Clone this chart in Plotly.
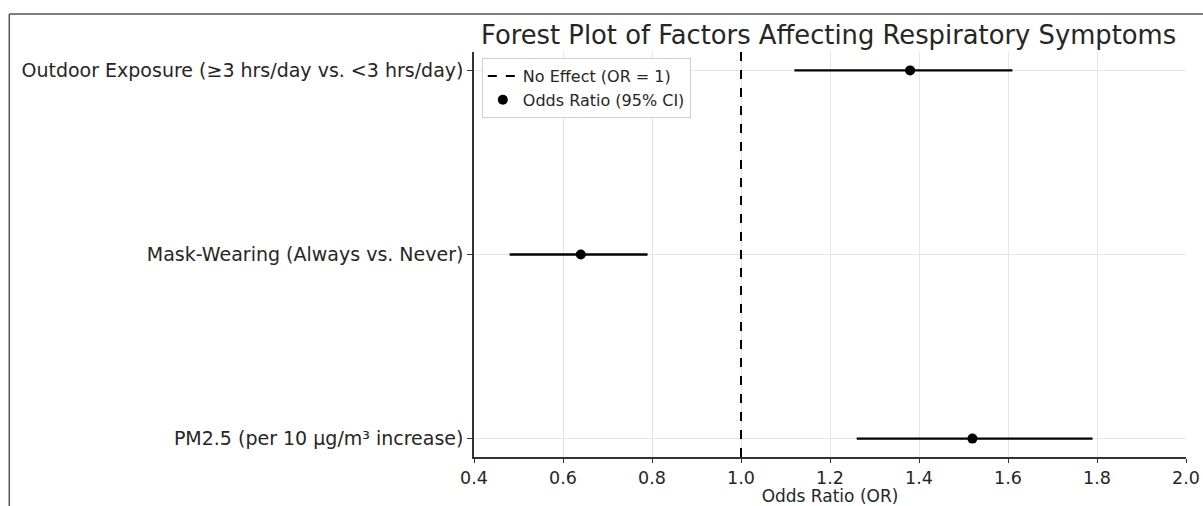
import plotly.graph_objects as go

factors = [
    "PM2.5 (per 10 µg/m³ increase)",
    "Mask-Wearing (Always vs. Never)",
    "Outdoor Exposure (≥3 hrs/day vs. <3 hrs/day)",
]
odds_ratio = [1.52, 0.64, 1.38]
ci_lower = [1.26, 0.48, 1.12]
ci_upper = [1.79, 0.79, 1.61]
x_ticks = [0.4, 0.6, 0.8, 1.0, 1.2, 1.4, 1.6, 1.8, 2.0]
x_tick_labels = ["0.4", "0.6", "0.8", "1.0", "1.2", "1.4", "1.6", "1.8", "2.0"]
null_value = 1.0

ypos = list(range(len(factors)))
err_plus = [u - o for u, o in zip(ci_upper, odds_ratio)]
err_minus = [o - l for o, l in zip(odds_ratio, ci_lower)]

FONT = "DejaVu Sans"
TXT = "#262626"

fig = go.Figure()
fig.add_trace(go.Scatter(
    x=[null_value, null_value], y=[-0.1, len(factors) - 0.9],
    mode="lines", name="No Effect (OR = 1)",
    line=dict(color="black", width=2, dash="dash"),
))
fig.add_trace(go.Scatter(
    x=odds_ratio, y=ypos, mode="markers", name="Odds Ratio (95% CI)",
    marker=dict(color="black", size=10),
    error_x=dict(type="data", symmetric=False, array=err_plus, arrayminus=err_minus,
                 color="black", thickness=2.4, width=0),
))

fig.update_layout(
    width=1203, height=506,
    margin=dict(l=474, r=17, t=52, b=49, autoexpand=False),
    paper_bgcolor="white", plot_bgcolor="white",
    font=dict(family=FONT, color=TXT, size=17),
    title=dict(text="Forest Plot of Factors Affecting Respiratory Symptoms",
               x=0.498, xanchor="center", y=0.931, yanchor="middle",
               xref="paper", automargin=False,
               font=dict(size=25.8, family=FONT, color=TXT)),
    showlegend=True,
    legend=dict(x=0.011, y=0.985, xanchor="left", yanchor="top",
                bgcolor="white", bordercolor="#d0d0d0", borderwidth=1,
                font=dict(size=16, family=FONT, color=TXT),
                tracegroupgap=0, itemwidth=30),
    xaxis=dict(range=[0.4, 2.0], tickvals=x_ticks, ticktext=x_tick_labels,
               automargin=False,
               showgrid=True, gridcolor="#e6e6e6", gridwidth=1,
               zeroline=False, showline=True, linecolor="#333", linewidth=1.5,
               ticks="outside", ticklen=4, tickcolor="#333",
               tickfont=dict(size=17.5, family=FONT, color=TXT),
               title=dict(text="Odds Ratio (OR)", standoff=1,
                          font=dict(size=17, family=FONT, color=TXT))),
    yaxis=dict(range=[-0.1, len(factors) - 0.9], tickvals=ypos, ticktext=factors,
               automargin=False,
               showgrid=True, gridcolor="#e6e6e6", gridwidth=1,
               zeroline=False, showline=True, linecolor="#333", linewidth=1.5,
               ticks="outside", ticklen=5, tickcolor="#333",
               tickfont=dict(size=19, family=FONT, color=TXT)),
    shapes=[
        dict(type="line", xref="paper", yref="paper", x0=-0.6527, x1=1.03,
             y0=1.0938, y1=1.0938, line=dict(color="#555", width=1.5)),
        dict(type="line", xref="paper", yref="paper", x0=-0.6527, x1=-0.6527,
             y0=1.0938, y1=-0.13, line=dict(color="#555", width=1.5)),
    ],
)

fig.write_html("out.html", post_script="document.body.style.margin='0';",
               config={"displayModeBar": False})
